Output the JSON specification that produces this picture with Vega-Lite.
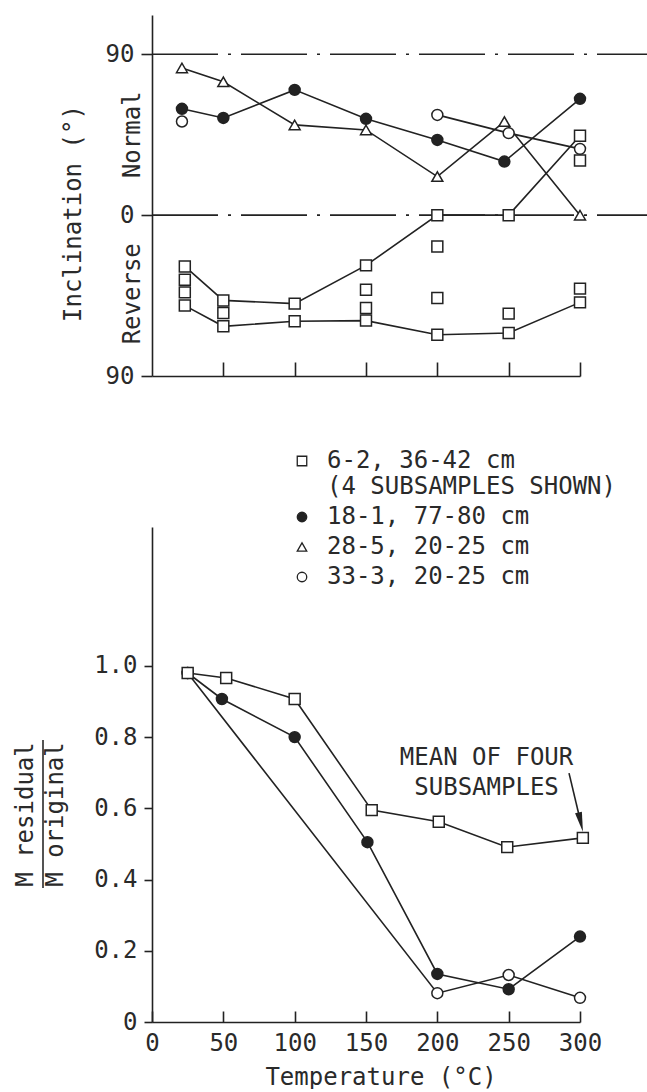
{
  "$schema": "https://vega.github.io/schema/vega-lite/v6.json",
  "background": "white",
  "padding": {"left": 13, "top": 15, "right": 0, "bottom": 0},
  "config": {
    "view": {"stroke": null},
    "axis": {
      "labelFont": "DejaVu Sans Mono", "labelFontSize": 24, "labelColor": "#2a2a2a",
      "titleFont": "DejaVu Sans Mono", "titleFontSize": 24, "titleFontWeight": "normal", "titleColor": "#2a2a2a",
      "domainColor": "#222", "domainWidth": 1.6, "tickColor": "#222", "tickWidth": 1.6, "grid": false, "labelFlush": false
    }
  },
  "spacing": 151,
  "bounds": "flush",
  "vconcat": [
    {
      "width": 428,
      "height": 361,
      "data": {"values": [
        {"s": "28-5, 20-25 cm", "g": "tri", "t": 21, "inc": 82.4},
        {"s": "28-5, 20-25 cm", "g": "tri", "t": 50, "inc": 74.6},
        {"s": "28-5, 20-25 cm", "g": "tri", "t": 100, "inc": 50.5},
        {"s": "28-5, 20-25 cm", "g": "tri", "t": 150, "inc": 47.7},
        {"s": "28-5, 20-25 cm", "g": "tri", "t": 200, "inc": 21.6},
        {"s": "28-5, 20-25 cm", "g": "tri", "t": 247, "inc": 52.4},
        {"s": "28-5, 20-25 cm", "g": "tri", "t": 300, "inc": 0},
        {"s": "18-1, 77-80 cm", "g": "fc", "t": 21, "inc": 59.5},
        {"s": "18-1, 77-80 cm", "g": "fc", "t": 50, "inc": 54.4},
        {"s": "18-1, 77-80 cm", "g": "fc", "t": 100, "inc": 70.1},
        {"s": "18-1, 77-80 cm", "g": "fc", "t": 150, "inc": 53.9},
        {"s": "18-1, 77-80 cm", "g": "fc", "t": 200, "inc": 42.1},
        {"s": "18-1, 77-80 cm", "g": "fc", "t": 247, "inc": 30.0},
        {"s": "18-1, 77-80 cm", "g": "fc", "t": 300, "inc": 65.1},
        {"s": "33-3, 20-25 cm", "g": "none", "t": 21, "inc": 52.4},
        {"s": "33-3, 20-25 cm", "g": "oc", "t": 200, "inc": 56.1},
        {"s": "33-3, 20-25 cm", "g": "oc", "t": 250, "inc": 45.9},
        {"s": "33-3, 20-25 cm", "g": "oc", "t": 300, "inc": 37.1},
        {"s": "6-2, 36-42 cm", "g": "sqA", "t": 23, "inc": -28.7},
        {"s": "6-2, 36-42 cm", "g": "sqA", "t": 50, "inc": -47.7},
        {"s": "6-2, 36-42 cm", "g": "sqA", "t": 100, "inc": -49.5},
        {"s": "6-2, 36-42 cm", "g": "sqA", "t": 150, "inc": -28.1},
        {"s": "6-2, 36-42 cm", "g": "sqA", "t": 200, "inc": 0},
        {"s": "6-2, 36-42 cm", "g": "sqA", "t": 250, "inc": 0},
        {"s": "6-2, 36-42 cm", "g": "sqA", "t": 300, "inc": 44.4},
        {"s": "6-2, 36-42 cm", "g": "sqB", "t": 23, "inc": -50.6},
        {"s": "6-2, 36-42 cm", "g": "sqB", "t": 50, "inc": -62.2},
        {"s": "6-2, 36-42 cm", "g": "sqB", "t": 100, "inc": -59.4},
        {"s": "6-2, 36-42 cm", "g": "sqB", "t": 150, "inc": -59.0},
        {"s": "6-2, 36-42 cm", "g": "sqB", "t": 200, "inc": -66.9},
        {"s": "6-2, 36-42 cm", "g": "sqB", "t": 250, "inc": -65.9},
        {"s": "6-2, 36-42 cm", "g": "sqB", "t": 300, "inc": -48.8},
        {"s": "6-2, 36-42 cm", "g": "none", "t": 23, "inc": -36.1},
        {"s": "6-2, 36-42 cm", "g": "none", "t": 23, "inc": -43.2},
        {"s": "6-2, 36-42 cm", "g": "none", "t": 50, "inc": -54.7},
        {"s": "6-2, 36-42 cm", "g": "none", "t": 150, "inc": -41.7},
        {"s": "6-2, 36-42 cm", "g": "none", "t": 150, "inc": -51.9},
        {"s": "6-2, 36-42 cm", "g": "none", "t": 200, "inc": -17.5},
        {"s": "6-2, 36-42 cm", "g": "none", "t": 200, "inc": -46.3},
        {"s": "6-2, 36-42 cm", "g": "none", "t": 250, "inc": -55.1},
        {"s": "6-2, 36-42 cm", "g": "none", "t": 300, "inc": 30.6},
        {"s": "6-2, 36-42 cm", "g": "none", "t": 300, "inc": -41.1}
      ]},
      "encoding": {
        "x": {"field": "t", "type": "quantitative",
              "scale": {"domain": [0, 300], "nice": false, "zero": false},
              "axis": {"values": [50, 100, 150, 200, 250, 300], "labels": false, "tickSize": -14, "title": null}},
        "y": {"field": "inc", "type": "quantitative",
              "scale": {"domain": [-90, 112], "nice": false, "zero": false},
              "axis": {"values": [-90, 0, 90], "labelExpr": "format(abs(datum.value), 'd')", "tickSize": 11, "labelPadding": 7,
                       "title": "Inclination (°)", "titleAngle": 270, "titleX": -79, "titleY": 198, "titleAlign": "center", "titleBaseline": "middle"}}
      },
      "layer": [
        {"transform": [{"filter": "datum.t == 300 && datum.g == 'tri'"}],
         "mark": {"type": "rule", "stroke": "#222", "strokeWidth": 1.6, "strokeDash": [66, 10, 3, 10]},
         "encoding": {"y": {"datum": 90}, "x": {"datum": 0}, "x2": {"datum": 348}}},
        {"data": {"values": [{"lev": 0, "a": 0, "b": 348}]},
         "mark": {"type": "rule", "stroke": "#222", "strokeWidth": 1.6, "strokeDash": [66, 10, 3, 10]},
         "encoding": {"y": {"field": "lev", "type": "quantitative"}, "x": {"field": "a", "type": "quantitative"}, "x2": {"field": "b"}}},
        {"transform": [{"filter": "datum.g != 'none'"}],
         "mark": {"type": "line", "stroke": "#222", "strokeWidth": 1.6},
         "encoding": {"detail": {"field": "g"}}},
        {"mark": {"type": "point", "filled": true, "size": 120, "strokeWidth": 1.5, "opacity": 1},
         "encoding": {
           "shape": {"field": "s", "type": "nominal",
                     "scale": {"domain": ["6-2, 36-42 cm", "18-1, 77-80 cm", "28-5, 20-25 cm", "33-3, 20-25 cm"],
                               "range": ["square", "circle", "triangle-up", "circle"]},
                     "legend": {"title": null, "orient": "none", "legendX": 138, "legendY": 434, "padding": 0,
                                "labelFont": "DejaVu Sans Mono", "labelFontSize": 24, "labelColor": "#2a2a2a",
                                "labelOffset": 13, "labelLimit": 0, "rowPadding": 6,
                                "symbolStrokeWidth": 1.3, "symbolSize": 90, "symbolOpacity": 1,
                                "labelExpr": "datum.label == '6-2, 36-42 cm' ? ['6-2, 36-42 cm', '(4 SUBSAMPLES SHOWN)'] : datum.label"}},
           "fill": {"field": "s", "type": "nominal",
                    "scale": {"domain": ["6-2, 36-42 cm", "18-1, 77-80 cm", "28-5, 20-25 cm", "33-3, 20-25 cm"],
                              "range": ["white", "#222", "white", "white"]},
                    "legend": {"title": null, "orient": "none", "legendX": 138, "legendY": 434, "padding": 0,
                               "labelFont": "DejaVu Sans Mono", "labelFontSize": 24, "labelColor": "#2a2a2a",
                               "labelOffset": 13, "labelLimit": 0, "rowPadding": 6,
                               "symbolStrokeWidth": 1.3, "symbolSize": 90, "symbolOpacity": 1,
                               "labelExpr": "datum.label == '6-2, 36-42 cm' ? ['6-2, 36-42 cm', '(4 SUBSAMPLES SHOWN)'] : datum.label"}},
           "stroke": {"field": "s", "type": "nominal",
                    "scale": {"domain": ["6-2, 36-42 cm", "18-1, 77-80 cm", "28-5, 20-25 cm", "33-3, 20-25 cm"],
                              "range": ["#222", "#222", "#222", "#222"]},
                    "legend": {"title": null, "orient": "none", "legendX": 138, "legendY": 434, "padding": 0,
                               "labelFont": "DejaVu Sans Mono", "labelFontSize": 24, "labelColor": "#2a2a2a",
                               "labelOffset": 13, "labelLimit": 0, "rowPadding": 6,
                               "symbolStrokeWidth": 1.3, "symbolSize": 90, "symbolOpacity": 1,
                               "labelExpr": "datum.label == '6-2, 36-42 cm' ? ['6-2, 36-42 cm', '(4 SUBSAMPLES SHOWN)'] : datum.label"}}
         }},
        {"transform": [{"filter": "datum.t == 300 && datum.g == 'tri'"}],
         "mark": {"type": "text", "text": "Normal", "angle": 270, "font": "DejaVu Sans Mono", "fontSize": 24, "fill": "#2a2a2a", "align": "center", "baseline": "middle"},
         "encoding": {"x": {"datum": -13}, "y": {"datum": 45}}},
        {"transform": [{"filter": "datum.t == 300 && datum.g == 'tri'"}],
         "mark": {"type": "text", "text": "Reverse", "angle": 270, "font": "DejaVu Sans Mono", "fontSize": 24, "fill": "#2a2a2a", "align": "center", "baseline": "middle"},
         "encoding": {"x": {"datum": -13}, "y": {"datum": -44}}}
      ]
    },
    {
      "width": 428,
      "height": 495,
      "data": {"values": [
        {"s": "18-1, 77-80 cm", "t": 25, "r": 0.98},
        {"s": "18-1, 77-80 cm", "t": 49, "r": 0.907},
        {"s": "18-1, 77-80 cm", "t": 100, "r": 0.80},
        {"s": "18-1, 77-80 cm", "t": 151, "r": 0.505},
        {"s": "18-1, 77-80 cm", "t": 200, "r": 0.135},
        {"s": "18-1, 77-80 cm", "t": 250, "r": 0.092},
        {"s": "18-1, 77-80 cm", "t": 300, "r": 0.24},
        {"s": "33-3, 20-25 cm", "t": 25, "r": 0.98},
        {"s": "33-3, 20-25 cm", "t": 200, "r": 0.081},
        {"s": "33-3, 20-25 cm", "t": 250, "r": 0.132},
        {"s": "33-3, 20-25 cm", "t": 300, "r": 0.068},
        {"s": "6-2, 36-42 cm", "t": 25, "r": 0.98},
        {"s": "6-2, 36-42 cm", "t": 52, "r": 0.966},
        {"s": "6-2, 36-42 cm", "t": 100, "r": 0.907},
        {"s": "6-2, 36-42 cm", "t": 154, "r": 0.595},
        {"s": "6-2, 36-42 cm", "t": 201, "r": 0.5625},
        {"s": "6-2, 36-42 cm", "t": 249, "r": 0.491},
        {"s": "6-2, 36-42 cm", "t": 302, "r": 0.517}
      ]},
      "encoding": {
        "x": {"field": "t", "type": "quantitative",
              "scale": {"domain": [0, 300], "nice": false, "zero": false},
              "axis": {"values": [0, 50, 100, 150, 200, 250, 300], "tickSize": -11, "labelPadding": 20,
                       "title": "Temperature (°C)", "titleX": 228.5, "titlePadding": 10}},
        "y": {"field": "r", "type": "quantitative",
              "scale": {"domain": [0, 1.39], "nice": false, "zero": false},
              "axis": {"values": [0, 0.2, 0.4, 0.6, 0.8, 1.0], "labelExpr": "datum.value == 0 ? '0' : format(datum.value, '.1f')",
                       "tickSize": 8, "labelPadding": 7,
                       "title": ["M residual", "M original"], "titleAngle": 270, "titleX": -127, "titleY": 287,
                       "titleAlign": "center", "titleBaseline": "middle", "titleLineHeight": 30}}
      },
      "layer": [
        {"mark": {"type": "line", "stroke": "#222", "strokeWidth": 1.6},
         "encoding": {"detail": {"field": "s"}}},
        {"mark": {"type": "point", "filled": true, "size": 120, "stroke": "#222", "strokeWidth": 1.5, "opacity": 1},
         "encoding": {
           "shape": {"field": "s", "type": "nominal",
                     "scale": {"domain": ["6-2, 36-42 cm", "18-1, 77-80 cm", "28-5, 20-25 cm", "33-3, 20-25 cm"],
                               "range": ["square", "circle", "triangle-up", "circle"]}, "legend": null},
           "fill": {"field": "s", "type": "nominal",
                    "scale": {"domain": ["6-2, 36-42 cm", "18-1, 77-80 cm", "28-5, 20-25 cm", "33-3, 20-25 cm"],
                              "range": ["white", "#222", "white", "white"]}, "legend": null}
         }},
        {"transform": [{"filter": "datum.t == 302"}],
         "mark": {"type": "text", "text": ["MEAN OF FOUR", "SUBSAMPLES"], "lineHeight": 30, "font": "DejaVu Sans Mono", "fontSize": 24, "fill": "#2a2a2a", "align": "center", "baseline": "middle"},
         "encoding": {"x": {"datum": 234.5}, "y": {"datum": 0.741}}},
        {"transform": [{"filter": "datum.t == 302"}],
         "mark": {"type": "rule", "stroke": "#222", "strokeWidth": 1.6},
         "encoding": {"x": {"datum": 292.3}, "y": {"datum": 0.699}, "x2": {"datum": 300.5}, "y2": {"datum": 0.561}}},
        {"transform": [{"filter": "datum.t == 302"}],
         "mark": {"type": "point", "shape": "M0,1L-0.35,-1L0.35,-1Z", "size": 400, "angle": -13, "filled": true, "fill": "#222", "opacity": 1},
         "encoding": {"x": {"datum": 300.5}, "y": {"datum": 0.561}}},
        {"transform": [{"filter": "datum.t == 302"}],
         "mark": {"type": "rule", "stroke": "#2a2a2a", "strokeWidth": 1.6},
         "encoding": {"x": {"datum": -76.4}, "y": {"datum": 0.376}, "y2": {"datum": 0.792}}}
      ]
    }
  ]
}
